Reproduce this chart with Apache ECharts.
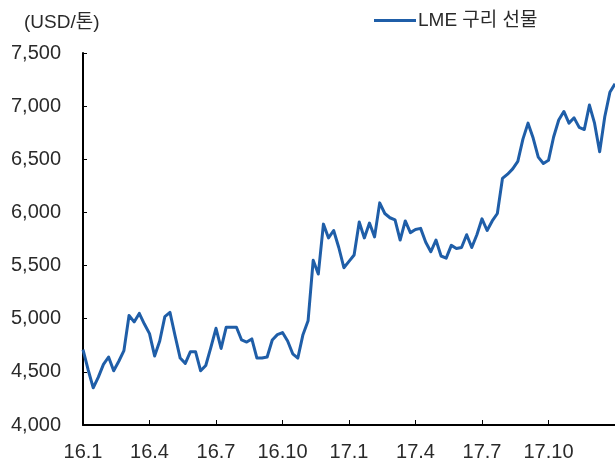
<!DOCTYPE html>
<html>
<head>
<meta charset="utf-8">
<script src="https://cdn.jsdelivr.net/npm/echarts@6/dist/echarts.min.js"></script>
<style>
  html, body { margin: 0; padding: 0; background: #ffffff; }
  #chart { width: 615px; height: 462px; }
</style>
</head>
<body>
<div id="chart"></div>
<script>
// LME copper futures, weekly closes 2016-01 .. 2017-12 (USD per tonne)
const seriesName = 'LME 구리 선물';
const unitLabel = '(USD/톤)';
const quarterLabels = ['16.1', '16.4', '16.7', '16.10', '17.1', '17.4', '17.7', '17.10'];
const weeksPerQuarter = 13;
const copperWeekly = [
  4710, 4520, 4350, 4450, 4570, 4640, 4510, 4600, 4700, 5030,
  4970, 5050, 4950, 4860, 4650, 4790, 5020, 5060, 4840, 4630,
  4580, 4690, 4690, 4510, 4560, 4730, 4910, 4720, 4920, 4920,
  4920, 4800, 4780, 4810, 4630, 4630, 4640, 4800, 4850, 4870,
  4790, 4670, 4630, 4850, 4980, 5550, 5420, 5890, 5760, 5830,
  5670, 5480, 5540, 5600, 5910, 5760, 5900, 5770, 6090, 5990,
  5950, 5930, 5740, 5920, 5810, 5840, 5850, 5720, 5630, 5740,
  5590, 5570, 5690, 5660, 5670, 5790, 5670, 5790, 5940, 5830,
  5920, 5990, 6320, 6360, 6410, 6480, 6690, 6840, 6700, 6520,
  6460, 6490, 6710, 6870, 6950, 6840, 6890, 6800, 6780, 7010,
  6840, 6570, 6900, 7130, 7210
];

const FONT = "'Liberation Sans', 'Noto Sans CJK KR', sans-serif";
const TEXT = '#2a2a2a';
const LINE = '#1f5ea8';

const chart = echarts.init(document.getElementById('chart'), null, { renderer: 'canvas' });

chart.setOption({
  animation: false,
  backgroundColor: '#ffffff',
  title: {
    text: unitLabel,
    left: 19,
    top: 8,
    textStyle: { fontFamily: FONT, fontSize: 19, fontWeight: 'normal', color: TEXT }
  },
  legend: {
    left: 369,
    top: 6,
    itemWidth: 42,
    itemHeight: 3,
    itemGap: 10,
    icon: 'rect',
    textStyle: { fontFamily: FONT, fontSize: 19, color: TEXT, padding: [0, 0, 0, -3] },
    data: [seriesName]
  },
  grid: { left: 83, right: 0, top: 53, bottom: 37, containLabel: false },
  xAxis: {
    type: 'value',
    min: 0,
    max: (quarterLabels.length) * weeksPerQuarter,
    interval: weeksPerQuarter,
    axisLine: { show: true, lineStyle: { color: '#000000', width: 2 } },
    axisTick: { show: true, inside: true, length: 5, lineStyle: { color: '#000000', width: 1 } },
    splitLine: { show: false },
    axisLabel: {
      margin: 17,
      fontFamily: FONT,
      fontSize: 20,
      color: TEXT,
      showMaxLabel: false,
      formatter: v => quarterLabels[Math.round(v / weeksPerQuarter)] || ''
    }
  },
  yAxis: {
    type: 'value',
    min: 4000,
    max: 7500,
    interval: 500,
    axisLine: { show: true, lineStyle: { color: '#000000', width: 2 } },
    axisTick: { show: true, inside: true, length: 4, lineStyle: { color: '#000000', width: 1 } },
    splitLine: { show: false },
    axisLabel: {
      margin: 22,
      fontFamily: FONT,
      fontSize: 20,
      color: TEXT,
      formatter: v => v.toLocaleString('en-US')
    }
  },
  series: [{
    name: seriesName,
    type: 'line',
    data: copperWeekly.map((v, i) => [i, v]),
    showSymbol: false,
    symbol: 'none',
    smooth: false,
    color: LINE,
    lineStyle: { color: LINE, width: 3, join: 'round' }
  }]
});
</script>
</body>
</html>
